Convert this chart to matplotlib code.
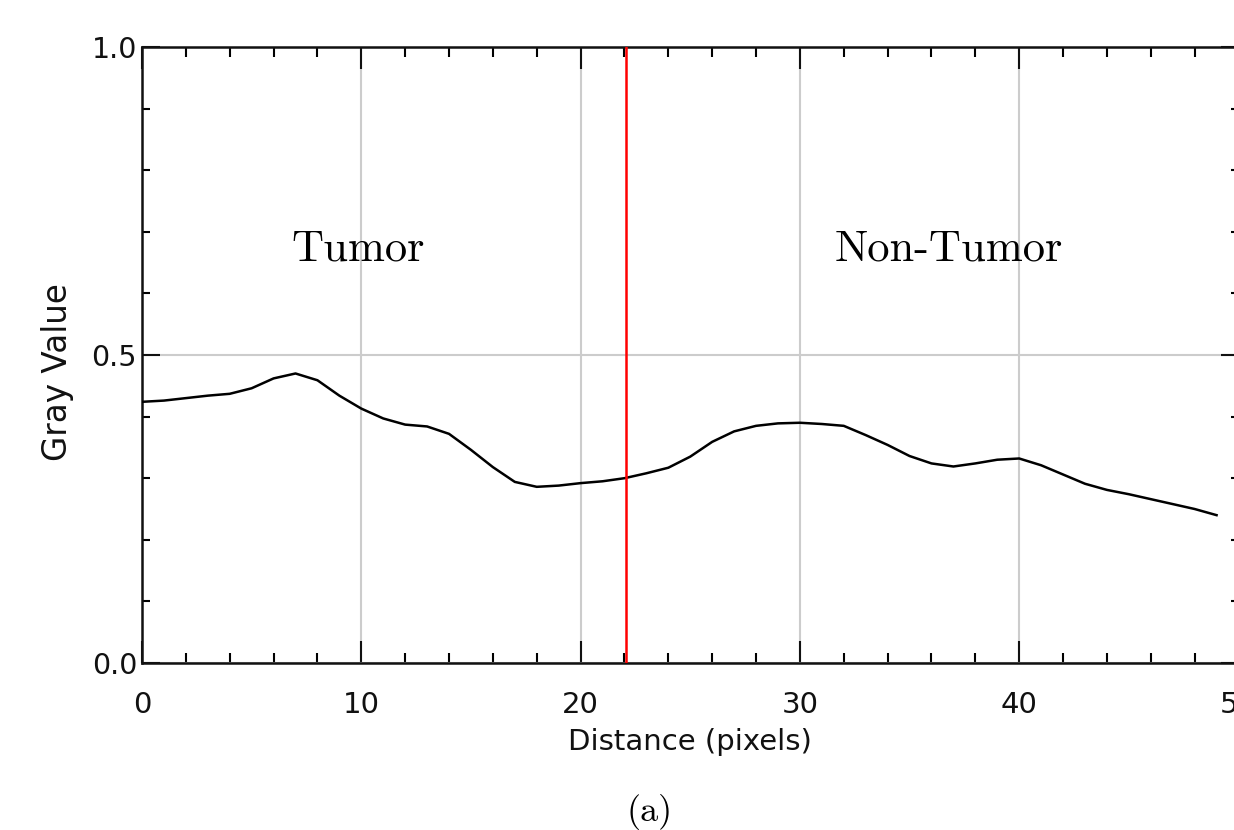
import matplotlib
matplotlib.use("Agg")
import matplotlib.pyplot as plt
from matplotlib.ticker import MultipleLocator, FixedLocator, FixedFormatter

# ---- data ----
distance = list(range(50))
gray_value = [0.424, 0.426, 0.430, 0.434, 0.437, 0.446, 0.462, 0.470, 0.459, 0.434,
              0.413, 0.397, 0.387, 0.384, 0.372, 0.346, 0.318, 0.294, 0.286, 0.288,
              0.292, 0.295, 0.300, 0.308, 0.317, 0.335, 0.359, 0.376, 0.385, 0.389,
              0.390, 0.388, 0.385, 0.370, 0.354, 0.336, 0.324, 0.319, 0.324, 0.330,
              0.332, 0.321, 0.306, 0.291, 0.281, 0.274, 0.266, 0.258, 0.250, 0.240]
boundary_x = 22.08
x_major = [0, 10, 20, 30, 40, 50]
x_labels = ["0", "10", "20", "30", "40", "50"]
y_major = [0.0, 0.5, 1.0]
y_labels = ["0.0", "0.5", "1.0"]
region_labels = ["Tumor", "Non-Tumor"]
region_x = [9.87, 36.78]
region_y = 0.654

W, H = 1234, 830
fig = plt.figure(figsize=(W / 100, H / 100), dpi=100)
ax = fig.add_axes([142 / W, (H - 663) / H, 1096.5 / W, 616 / H])

ax.set_xlim(0, 50)
ax.set_ylim(0, 1)

ax.xaxis.set_major_locator(FixedLocator(x_major))
ax.xaxis.set_major_formatter(FixedFormatter(x_labels))
ax.xaxis.set_minor_locator(MultipleLocator(2))
ax.yaxis.set_major_locator(FixedLocator(y_major))
ax.yaxis.set_major_formatter(FixedFormatter(y_labels))
ax.yaxis.set_minor_locator(MultipleLocator(0.1))

ax.grid(True, which="major", color="#cccccc", linewidth=1.5, zorder=0)
ax.set_axisbelow(True)

ax.plot(distance, gray_value, color="black", linewidth=1.8, zorder=3)
ax.axvline(boundary_x, color="#ff0000", linewidth=1.8, zorder=4)

for lbl, xx in zip(region_labels, region_x):
    ax.text(xx, region_y, lbl, family="cmr10", fontsize=32, ha="center",
            va="baseline", color="black")

for sp in ax.spines.values():
    sp.set_linewidth(1.8)
    sp.set_color("#111111")

ax.tick_params(axis="x", which="major", direction="in", length=15.8, width=1.5,
               top=True, bottom=True, pad=20, labelsize=21, colors="#111111")
ax.tick_params(axis="x", which="minor", direction="in", length=7.2, width=1.5,
               top=True, bottom=True)
ax.tick_params(axis="y", which="major", direction="in", length=13, width=1.5,
               left=True, right=True, pad=3.6, labelsize=20.5, colors="#111111")
ax.tick_params(axis="y", which="minor", direction="in", length=5.8, width=1.5,
               left=True, right=True)

ax.set_xlabel("Distance (pixels)", fontsize=21, va="center", color="#111111")
ax.xaxis.set_label_coords(0.5, -0.128)
ax.set_ylabel("Gray Value", fontsize=23.5, va="center", color="#111111")
ax.yaxis.set_label_coords(-0.077, 0.473)

fig.text(650 / W, 1 - 821 / H, "(a)", family="cmr10", fontsize=26,
         ha="center", va="baseline", color="black")

fig.savefig("out.png", dpi=100, facecolor="white")
